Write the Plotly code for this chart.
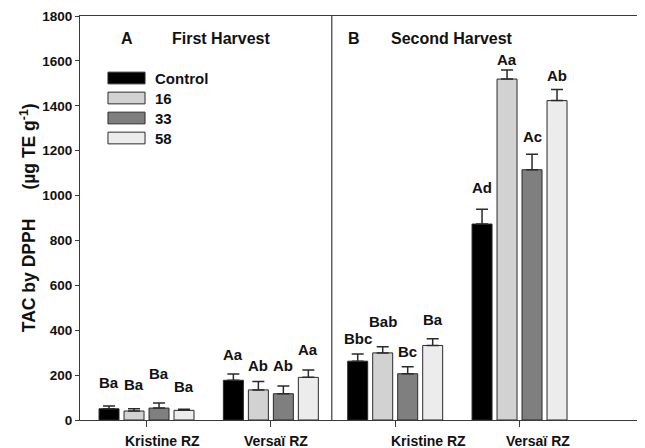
import plotly.graph_objects as go

# ---- data -------------------------------------------------------------
groups = ["Kristine RZ", "Versaï RZ", "Kristine RZ", "Versaï RZ"]
treatments = ["Control", "16", "33", "58"]

control = [50, 177, 262, 873]
t16 = [40, 134, 299, 1519]
t33 = [53, 117, 206, 1115]
t58 = [43, 190, 332, 1423]

err_control = [12, 28, 32, 66]
err_16 = [10, 38, 27, 40]
err_33 = [23, 34, 31, 69]
err_58 = [5, 33, 30, 49]

letters_control = ["Ba", "Aa", "Bbc", "Ad"]
letters_16 = ["Ba", "Ab", "Bab", "Aa"]
letters_33 = ["Ba", "Ab", "Bc", "Ac"]
letters_58 = ["Ba", "Aa", "Ba", "Ab"]

letter_y_control = [166, 290, 365, 1035]
letter_y_16 = [160, 242, 437, 1607]
letter_y_33 = [205, 245, 303, 1262]
letter_y_58 = [151, 316, 446, 1533]

y_ticks = [0, 200, 400, 600, 800, 1000, 1200, 1400, 1600, 1800]
panel_letters = ["A", "B"]
panel_names = ["First Harvest", "Second Harvest"]
y_title = "TAC by DPPH" + "\u00a0" * 6 + "(µg TE g<sup>-1</sup>)"

# ---- styling ----------------------------------------------------------
FONT = "Liberation Sans, Arial, sans-serif"
colors = ["#000000", "#d2d2d2", "#7f7f7f", "#ececec"]
AX = "#3a3a3a"
BARGAP = 0.196

series = [control, t16, t33, t58]
errors = [err_control, err_16, err_33, err_58]
letters = [letters_control, letters_16, letters_33, letters_58]
letter_ys = [letter_y_control, letter_y_16, letter_y_33, letter_y_58]

xpos = list(range(len(groups)))
n = len(treatments)
slot = (1 - BARGAP) / n

fig = go.Figure()
for i, name in enumerate(treatments):
    fig.add_trace(go.Bar(
        x=xpos, y=series[i], name=name,
        marker=dict(color=colors[i], line=dict(color="#2a2a2a", width=1)),
        error_y=dict(type="data", symmetric=False, array=errors[i],
                     arrayminus=[0] * len(groups), color="#2a2a2a",
                     thickness=1.5, width=6),
        showlegend=False,
    ))

annotations = []
# letters above bars
for i in range(n):
    for j in xpos:
        annotations.append(dict(
            x=j + (i - (n - 1) / 2) * slot, y=letter_ys[i][j], xref="x", yref="y",
            text=letters[i][j], showarrow=False, xanchor="center", yanchor="middle",
            font=dict(family=FONT, size=15, color="#111", weight=700)))

# group labels under axis
label_shift = [0.13, 0.04, 0.27, 0.15]
for j, g in enumerate(groups):
    annotations.append(dict(
        x=j + label_shift[j], y=0, xref="x", yref="paper", yshift=-21,
        text=g, showarrow=False, xanchor="center", yanchor="middle",
        font=dict(family=FONT, size=14, color="#111", weight=700)))

# panel titles
letter_x = [0.0826, 0.4867]
name_x = [0.2513, 0.6599]
for k in range(2):
    annotations.append(dict(x=letter_x[k], y=0.9455, xref="paper", yref="paper",
                            text=panel_letters[k], showarrow=False,
                            xanchor="center", yanchor="middle",
                            font=dict(family=FONT, size=16, color="#111", weight=700)))
    annotations.append(dict(x=name_x[k], y=0.9455, xref="paper", yref="paper",
                            text=panel_names[k], showarrow=False,
                            xanchor="center", yanchor="middle",
                            font=dict(family=FONT, size=16, color="#111", weight=700)))

# y-axis title
annotations.append(dict(x=-0.0924, y=0.502, xref="paper", yref="paper",
                        text=y_title, textangle=-90,
                        showarrow=False, xanchor="center", yanchor="middle",
                        font=dict(family=FONT, size=17.5, color="#111", weight=700)))

# custom legend
shapes = []
row_y = [0.8465, 0.797, 0.7475, 0.698]
for i, name in enumerate(treatments):
    shapes.append(dict(type="rect", xref="paper", yref="paper",
                       x0=0.0497, x1=0.1155, y0=row_y[i] - 0.0145, y1=row_y[i] + 0.0145,
                       fillcolor=colors[i], line=dict(color="#2a2a2a", width=1)))
    annotations.append(dict(x=0.1297, y=row_y[i], xref="paper", yref="paper",
                            text=name, showarrow=False, xanchor="left", yanchor="middle",
                            font=dict(family=FONT, size=15, color="#111", weight=700)))

# panel divider
shapes.append(dict(type="line", xref="x", yref="paper", x0=1.49, x1=1.49, y0=0, y1=1,
                   line=dict(color=AX, width=1.2)))

# page body has an 8px margin, so the figure is sized/offset to compensate
fig.update_layout(
    width=636, height=440,
    margin=dict(l=72, r=1, t=8, b=28),
    paper_bgcolor="white", plot_bgcolor="white",
    barmode="group", bargap=BARGAP, bargroupgap=0.2,
    annotations=annotations, shapes=shapes,
    showlegend=False,
)
fig.update_xaxes(range=[-0.535, 3.993], tickvals=xpos, showticklabels=False,
                 ticks="outside", ticklen=6, tickcolor=AX, showline=True, linecolor=AX,
                 linewidth=1.2, mirror=True, showgrid=False, zeroline=False)
fig.update_yaxes(range=[0, 1800], tickvals=y_ticks, ticks="outside", ticklen=4,
                 tickcolor=AX, showline=True, linecolor=AX, linewidth=1.2, mirror=True,
                 showgrid=False, zeroline=False,
                 tickfont=dict(family=FONT, size=13.5, color="#111", weight=700))

fig.write_html("out.html")
